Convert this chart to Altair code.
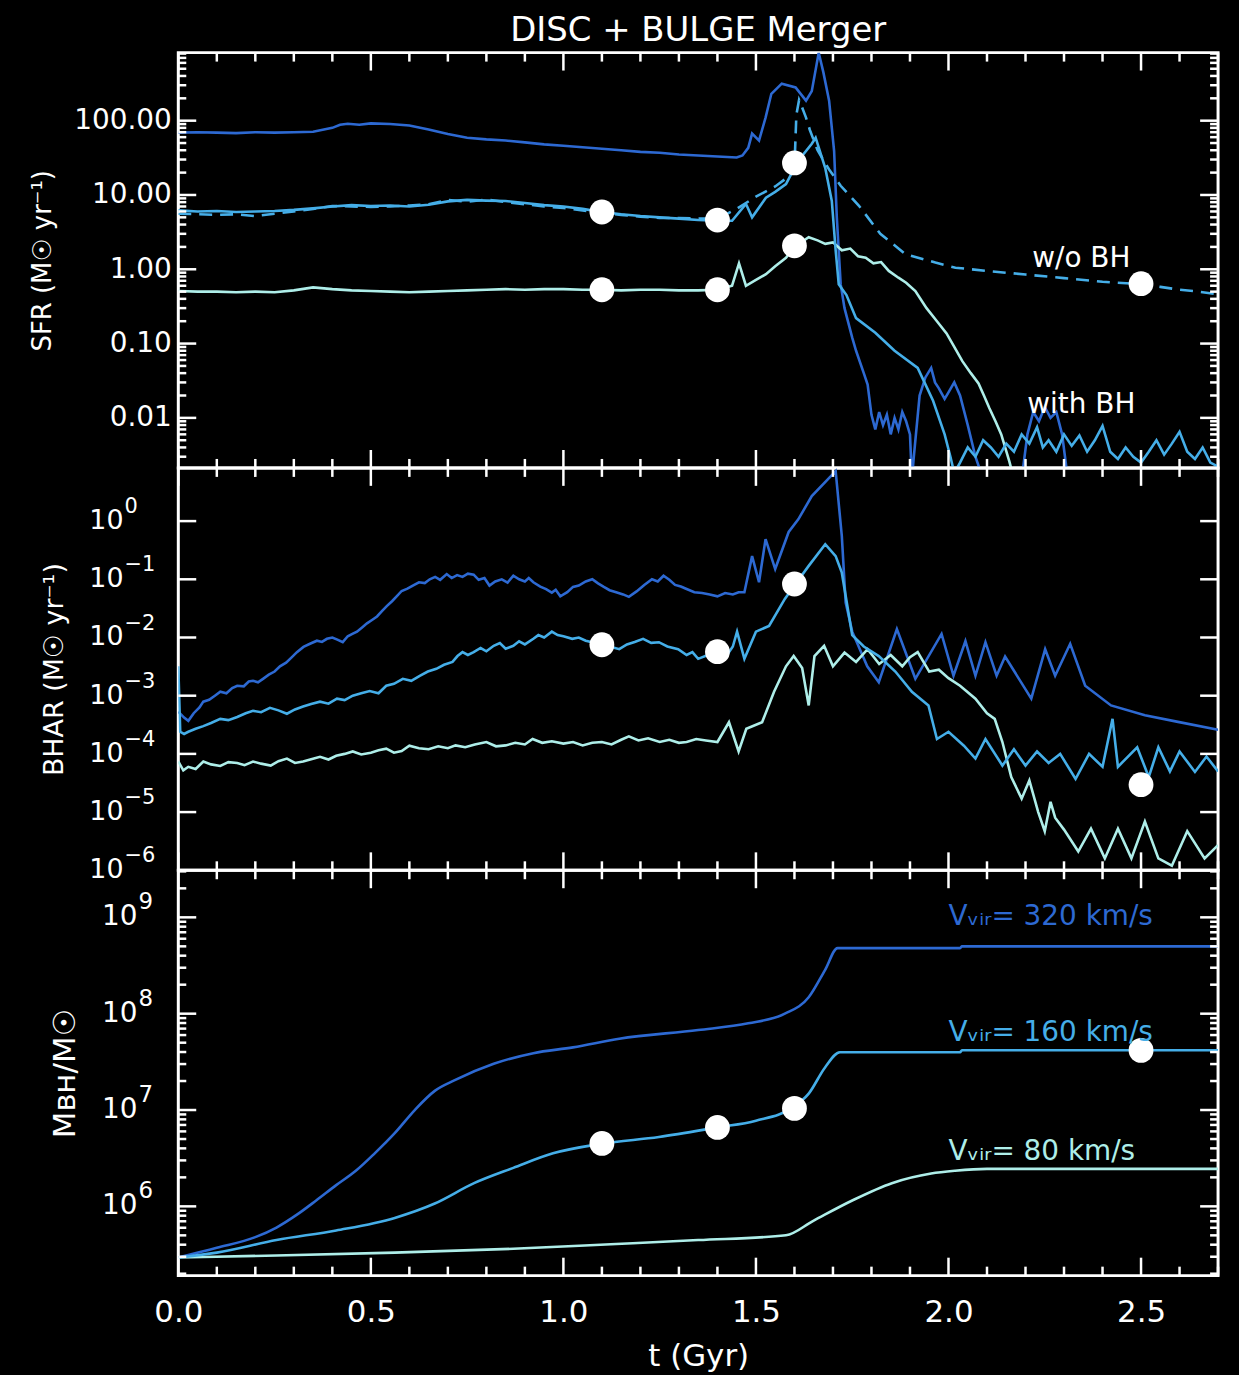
import altair as alt
import pandas as pd

# ---------------------------------------------------------------- data
T_EARLY = [0.00, 0.05, 0.10, 0.15, 0.20, 0.25, 0.30, 0.35, 0.40, 0.45, 0.50, 0.55, 0.60, 0.65,
           0.70, 0.75, 0.80, 0.85, 0.90, 0.95, 1.00, 1.05, 1.10, 1.15, 1.20, 1.25, 1.30, 1.35, 1.40]

# SFR panel
SFR320_T = [0.00, 0.05, 0.10, 0.15, 0.20, 0.25, 0.30, 0.35, 0.40, 0.42, 0.44, 0.47, 0.50, 0.55, 0.60,
            0.65, 0.70, 0.75, 0.80, 0.85, 0.90, 0.95, 1.00, 1.05, 1.10, 1.15, 1.20, 1.25, 1.30, 1.35,
            1.40, 1.45, 1.465, 1.48, 1.49, 1.508, 1.525, 1.54, 1.567, 1.603, 1.63, 1.645, 1.663, 1.675,
            1.69, 1.703, 1.71, 1.72, 1.73, 1.75, 1.76, 1.78, 1.79, 1.80, 1.81, 1.82, 1.83, 1.84, 1.85,
            1.86, 1.87, 1.88, 1.89, 1.90, 1.905, 1.91, 1.925, 1.94, 1.955, 1.965, 1.975, 1.99, 2.00,
            2.015, 2.03, 2.05, 2.07, 2.09, 2.19, 2.205, 2.22, 2.235, 2.25, 2.265, 2.28, 2.295, 2.31, 2.70]
SFR320_V = [69, 70, 69, 68, 70, 69, 70, 71, 80, 88, 91, 88, 92, 90, 86,
            76, 66, 59, 56, 54, 51, 48, 46, 44, 42, 40, 38, 37, 35, 34,
            33, 32, 34, 43, 67, 54, 110, 230, 315, 280, 186, 250, 820, 450,
            186, 39, 5, 0.63, 0.3, 0.12, 0.08, 0.04, 0.028, 0.011, 0.007, 0.012, 0.008, 0.011, 0.006,
            0.010, 0.007, 0.012, 0.009, 0.006, 0.0015, 0.003, 0.02, 0.035, 0.047, 0.03, 0.025, 0.018, 0.022,
            0.03, 0.02, 0.008, 0.003, 0.0015, 0.0015, 0.006, 0.012, 0.009, 0.014, 0.010, 0.012, 0.006, 0.0015, 0.0015]

SFR160_T = T_EARLY + [1.438, 1.474, 1.49, 1.526, 1.55, 1.578, 1.61, 1.645, 1.655, 1.68,
                      1.697, 1.707, 1.715, 1.735, 1.76, 1.81, 1.86, 1.92, 1.96, 1.99,
                      2.005, 2.015, 2.03, 2.05, 2.07, 2.09, 2.11, 2.13, 2.15, 2.17,
                      2.19, 2.21, 2.23, 2.245, 2.26, 2.28, 2.30, 2.32, 2.34, 2.36,
                      2.38, 2.40, 2.42, 2.44, 2.46, 2.48, 2.50, 2.52, 2.54, 2.56,
                      2.58, 2.60, 2.62, 2.64, 2.66, 2.68, 2.70]
SFR160_V = [6.2, 6.0, 6.1, 5.9, 6.0, 6.1, 6.3, 6.6, 7.0, 7.3, 7.1, 7.2, 7.0, 7.4, 8.2, 8.6, 8.4, 8.3,
            7.8, 7.3, 7.0, 6.5, 5.9, 5.5, 5.2, 5.0, 4.8, 4.6, 4.5] + \
           [4.5, 7.6, 5.0, 9.2, 11, 14, 29, 49, 59, 23,
            8.3, 1.8, 0.63, 0.45, 0.22, 0.14, 0.08, 0.047, 0.017, 0.006,
            0.003, 0.0018, 0.0025, 0.004, 0.003, 0.005, 0.004, 0.003, 0.0045, 0.0035,
            0.006, 0.0045, 0.0075, 0.004, 0.005, 0.0035, 0.006, 0.0042, 0.0058, 0.0035,
            0.005, 0.0078, 0.0035, 0.0028, 0.004, 0.003, 0.0025, 0.0035, 0.005, 0.0032,
            0.0045, 0.0065, 0.0035, 0.0028, 0.004, 0.0025, 0.0022]

SFR160NOBH_T = T_EARLY + [1.45, 1.50, 1.55, 1.58, 1.60, 1.605, 1.612, 1.62, 1.63, 1.64, 1.66, 1.69,
                          1.72, 1.767, 1.823, 1.888, 1.966, 2.018, 2.10, 2.20, 2.30, 2.40, 2.50,
                          2.55, 2.60, 2.65, 2.70]
SFR160NOBH_V = [5.6, 5.5, 5.4, 5.5, 5.2, 5.6, 6.0, 6.5, 7.1, 7.0, 6.9, 7.0, 7.2, 7.5, 8.6, 8.1, 8.7,
                8.0, 7.5, 7.0, 6.7, 6.2, 5.7, 5.4, 5.1, 4.9, 4.9, 4.8, 4.8] + \
               [6.5, 9.5, 13, 17, 24, 120, 190, 150, 110, 75, 40, 22,
                13.3, 7.2, 3.0, 1.6, 1.23, 1.05, 0.95, 0.85, 0.76, 0.68, 0.63,
                0.58, 0.53, 0.5, 0.46]

SFR80_T = T_EARLY + [1.438, 1.456, 1.474, 1.50, 1.526, 1.55, 1.578, 1.60, 1.637, 1.66,
                     1.68, 1.70, 1.723, 1.745, 1.765, 1.785, 1.805, 1.825, 1.845, 1.87,
                     1.89, 1.914, 1.943, 1.97, 1.995, 2.015, 2.036, 2.058, 2.078, 2.092,
                     2.106, 2.122, 2.137, 2.158, 2.175, 2.70]
SFR80_V = [0.51, 0.50, 0.50, 0.49, 0.50, 0.49, 0.52, 0.57, 0.54, 0.52, 0.51, 0.50, 0.49, 0.50, 0.51,
           0.52, 0.53, 0.54, 0.53, 0.54, 0.54, 0.53, 0.53, 0.52, 0.53, 0.53, 0.52, 0.52, 0.53] + \
          [0.6, 1.2, 0.6, 0.72, 0.86, 1.1, 1.43, 2.0, 2.7, 2.45,
           2.2, 2.3, 1.8, 1.9, 1.5, 1.43, 1.2, 1.25, 0.95, 0.77,
           0.66, 0.51, 0.30, 0.2, 0.137, 0.09, 0.058, 0.04, 0.029, 0.02,
           0.0136, 0.009, 0.006, 0.0026, 0.0012, 0.0012]

SFR_DOT_T = [1.1, 1.4, 1.6, 1.1, 1.4, 1.6, 2.5]
SFR_DOT_V = [5.9, 4.6, 27, 0.53, 0.53, 2.07, 0.64]

# BHAR panel
BHAR320_T = [0.000, 0.015, 0.026, 0.04, 0.055, 0.065, 0.08, 0.095, 0.109, 0.125, 0.14, 0.153,
             0.17, 0.183, 0.194, 0.207, 0.22, 0.235, 0.25, 0.264, 0.28, 0.295, 0.308, 0.325,
             0.342, 0.36, 0.373, 0.386, 0.40, 0.413, 0.427, 0.44, 0.452, 0.464, 0.478, 0.49,
             0.503, 0.516, 0.53, 0.542, 0.555, 0.567, 0.58, 0.595, 0.609, 0.625, 0.64, 0.653,
             0.667, 0.68, 0.697, 0.71, 0.724, 0.738, 0.752, 0.767, 0.78, 0.795, 0.808, 0.823,
             0.84, 0.855, 0.87, 0.885, 0.90, 0.91, 0.922, 0.94, 0.955, 0.97, 0.98, 0.992,
             1.01, 1.025, 1.04, 1.058, 1.075, 1.09, 1.105, 1.12, 1.137, 1.155, 1.17, 1.19,
             1.21, 1.23, 1.245, 1.26, 1.275, 1.29, 1.305, 1.32, 1.34, 1.36, 1.38, 1.40,
             1.42, 1.44, 1.455, 1.47,
             1.49, 1.508, 1.525, 1.55, 1.585, 1.61, 1.645, 1.707, 1.723,
             1.733, 1.75, 1.789, 1.819, 1.866, 1.914, 1.982, 2.013, 2.044, 2.07,
             2.096, 2.125, 2.147, 2.215, 2.251, 2.277, 2.316, 2.355, 2.422, 2.51,
             2.596, 2.70]
BHAR320_V = [5.3e-4, 4.2e-4, 3.7e-4, 5.0e-4, 6.3e-4, 7.9e-4, 8.5e-4, 1.0e-3, 1.17e-3, 1.1e-3, 1.35e-3, 1.48e-3,
             1.45e-3, 1.75e-3, 1.8e-3, 1.7e-3, 1.95e-3, 2.3e-3, 2.6e-3, 3.2e-3, 3.7e-3, 4.6e-3, 5.6e-3, 6.9e-3,
             7.8e-3, 8.8e-3, 8.4e-3, 9.5e-3, 1.0e-2, 9.2e-3, 8.3e-3, 1.05e-2, 1.15e-2, 1.26e-2, 1.5e-2, 1.75e-2,
             2.0e-2, 2.3e-2, 2.9e-2, 3.5e-2, 4.2e-2, 5.1e-2, 6.3e-2, 6.9e-2, 7.8e-2, 8.9e-2, 8.6e-2, 0.1,
             0.11, 0.098, 0.123, 0.105, 0.118, 0.11, 0.125, 0.12, 0.098, 0.105, 0.078, 0.092,
             0.1, 0.088, 0.115, 0.1, 0.092, 0.105, 0.089, 0.075, 0.068, 0.059, 0.066, 0.051,
             0.06, 0.074, 0.078, 0.092, 0.1, 0.085, 0.074, 0.065, 0.06, 0.055, 0.05, 0.062,
             0.08, 0.1, 0.092, 0.115, 0.098, 0.08, 0.075, 0.068, 0.06, 0.058, 0.055, 0.051,
             0.058, 0.055, 0.06, 0.06,
             0.25, 0.089, 0.49, 0.15, 0.65, 1.07, 2.7, 7.2, 0.55,
             0.04, 0.0126, 3.2e-3, 1.7e-3, 1.4e-2, 1.95e-3, 1.15e-2, 2.2e-3, 8.7e-3, 2.2e-3,
             8.3e-3, 2.2e-3, 4.7e-3, 8.9e-4, 6.3e-3, 2.2e-3, 7.8e-3, 1.48e-3, 6.8e-4, 4.6e-4,
             3.55e-4, 2.6e-4]

BHAR160_T = [0.000, 0.005, 0.015, 0.026, 0.045, 0.065, 0.085, 0.109, 0.13, 0.153, 0.175, 0.194,
             0.215, 0.238, 0.26, 0.282, 0.303, 0.324, 0.345, 0.368, 0.39, 0.412, 0.432, 0.453,
             0.475, 0.497, 0.52, 0.54, 0.56, 0.583, 0.605, 0.627, 0.648, 0.67, 0.69, 0.712,
             0.725, 0.738, 0.752, 0.767, 0.785, 0.80, 0.819, 0.835, 0.85, 0.87, 0.885, 0.90,
             0.922, 0.935, 0.95, 0.97, 0.985, 1.00, 1.023, 1.04, 1.058, 1.075, 1.10, 1.12,
             1.145, 1.165, 1.185, 1.207, 1.228, 1.248, 1.27, 1.298, 1.32, 1.335, 1.35, 1.375,
             1.40, 1.425, 1.44, 1.451,
             1.47, 1.50, 1.534, 1.575, 1.606,
             1.637, 1.68, 1.707, 1.723, 1.75, 1.78, 1.819, 1.862, 1.905, 1.948,
             1.97, 2.0, 2.04, 2.07, 2.096, 2.14, 2.17, 2.2, 2.23, 2.26,
             2.29, 2.33, 2.365, 2.40, 2.426, 2.44, 2.49, 2.52, 2.545, 2.575,
             2.60, 2.64, 2.67, 2.70]
BHAR160_V = [3.2e-3, 2.4e-4, 2.2e-4, 2.4e-4, 2.7e-4, 3.0e-4, 3.4e-4, 4.0e-4, 3.8e-4, 4.3e-4, 5.0e-4, 5.5e-4,
             5.2e-4, 6.2e-4, 5.6e-4, 4.9e-4, 5.8e-4, 6.5e-4, 7.2e-4, 7.9e-4, 7.3e-4, 8.9e-4, 8.4e-4, 1.0e-3,
             1.1e-3, 1.2e-3, 1.1e-3, 1.48e-3, 1.6e-3, 1.95e-3, 1.8e-3, 2.2e-3, 2.6e-3, 2.9e-3, 3.4e-3, 3.8e-3,
             4.8e-3, 5.6e-3, 5.0e-3, 5.6e-3, 6.6e-3, 5.8e-3, 7.2e-3, 8.0e-3, 6.4e-3, 7.2e-3, 8.6e-3, 7.6e-3,
             9.5e-3, 1.1e-2, 1.0e-2, 1.26e-2, 1.1e-2, 1.05e-2, 9.5e-3, 1.0e-2, 8.8e-3, 8.3e-3, 7.5e-3, 7.0e-3,
             6.3e-3, 7.6e-3, 8.4e-3, 9.5e-3, 8.1e-3, 8.3e-3, 7.0e-3, 6.3e-3, 5.0e-3, 5.6e-3, 4.3e-3, 5.0e-3,
             5.7e-3, 5.0e-3, 7.0e-3, 1.26e-2,
             4.3e-3, 1.26e-2, 1.58e-2, 4.6e-2, 8.9e-2,
             0.17, 0.4, 0.25, 0.13, 0.011, 7.0e-3, 4.8e-3, 2.6e-3, 1.17e-3, 6.8e-4,
             1.8e-4, 2.4e-4, 1.38e-4, 8.3e-5, 1.8e-4, 6.3e-5, 1.2e-4, 6.3e-5, 1.1e-4, 7e-5,
             1.0e-4, 3.7e-5, 1.0e-4, 6e-5, 4.0e-4, 6e-5, 1.3e-4, 4.0e-5, 1.3e-4, 5e-5,
             1.1e-4, 4.9e-5, 9e-5, 5e-5]

BHAR80_T = [0.000, 0.013, 0.026, 0.045, 0.065, 0.085, 0.109, 0.13, 0.153, 0.172, 0.194, 0.215,
            0.24, 0.26, 0.282, 0.303, 0.324, 0.345, 0.368, 0.39, 0.41, 0.432, 0.453, 0.475,
            0.50, 0.52, 0.54, 0.56, 0.58, 0.60, 0.625, 0.65, 0.675, 0.70, 0.72, 0.745,
            0.77, 0.80, 0.825, 0.85, 0.875, 0.90, 0.92, 0.945, 0.97, 1.00, 1.025, 1.05,
            1.075, 1.10, 1.125, 1.15, 1.17, 1.195, 1.22, 1.25, 1.275, 1.30, 1.32, 1.345,
            1.37, 1.40, 1.43, 1.455,
            1.475, 1.516, 1.547, 1.578, 1.598, 1.62, 1.637, 1.652, 1.677, 1.70,
            1.73, 1.76, 1.79, 1.82, 1.85, 1.88, 1.90, 1.92, 1.95, 1.975,
            2.00, 2.03, 2.07, 2.10, 2.12, 2.14, 2.163, 2.19, 2.21, 2.233,
            2.25, 2.265, 2.277, 2.30, 2.337, 2.37, 2.406, 2.44, 2.475, 2.51,
            2.545, 2.58, 2.62, 2.665, 2.70]
BHAR80_V = [7.4e-5, 5.2e-5, 6.0e-5, 5.5e-5, 7.4e-5, 6.6e-5, 6.2e-5, 7.2e-5, 7.0e-5, 6.4e-5, 7.4e-5, 6.8e-5,
            6.3e-5, 7.5e-5, 8.3e-5, 7.0e-5, 7.4e-5, 8.1e-5, 8.9e-5, 8.0e-5, 9.3e-5, 1.0e-4, 1.1e-4, 9.8e-5,
            1.05e-4, 1.15e-4, 1.23e-4, 1.05e-4, 1.12e-4, 1.38e-4, 1.25e-4, 1.2e-4, 1.35e-4, 1.25e-4, 1.4e-4, 1.3e-4,
            1.45e-4, 1.6e-4, 1.35e-4, 1.4e-4, 1.55e-4, 1.45e-4, 1.8e-4, 1.55e-4, 1.65e-4, 1.5e-4, 1.6e-4, 1.4e-4,
            1.55e-4, 1.6e-4, 1.45e-4, 1.75e-4, 2.0e-4, 1.7e-4, 1.85e-4, 1.6e-4, 1.75e-4, 1.55e-4, 1.6e-4, 1.8e-4,
            1.7e-4, 1.6e-4, 3.5e-4, 1.1e-4,
            2.7e-4, 3.5e-4, 1.17e-3, 3.2e-3, 4.8e-3, 3.0e-3, 6.8e-4, 4.8e-3, 7.2e-3, 3.2e-3,
            5.5e-3, 3.8e-3, 6.3e-3, 3.5e-3, 5.0e-3, 3.2e-3, 4.6e-3, 5.6e-3, 2.6e-3, 2.8e-3,
            2.0e-3, 1.48e-3, 8.9e-4, 5.0e-4, 4.0e-4, 1.6e-4, 4.0e-5, 1.7e-5, 3.5e-5, 1.0e-5,
            4.7e-6, 1.5e-5, 8e-6, 5e-6, 2.1e-6, 5.2e-6, 1.6e-6, 5.2e-6, 1.6e-6, 6.9e-6,
            1.6e-6, 1.2e-6, 4.7e-6, 1.6e-6, 2.7e-6]

BHAR_DOT_T = [1.1, 1.4, 1.6, 2.5]
BHAR_DOT_V = [7.5e-3, 5.7e-3, 0.083, 2.96e-5]

# Black-hole mass panel
MBH320_T = [0.0, 0.1, 0.2, 0.255, 0.31, 0.358, 0.41, 0.461, 0.51, 0.562, 0.614, 0.666, 0.718,
            0.819, 0.922, 1.025, 1.145, 1.35, 1.48, 1.575, 1.637, 1.679, 1.712, 2.03, 2.035, 2.70]
MBH320_V = [2.95e5, 3.72e5, 4.79e5, 6.03e5, 8.3e5, 1.15e6, 1.66e6, 2.34e6, 3.55e6, 5.75e6, 1.0e7,
            1.58e7, 2.04e7, 3.02e7, 3.89e7, 4.47e7, 5.5e7, 6.76e7, 7.94e7, 1.0e8, 1.48e8, 2.82e8,
            4.79e8, 4.79e8, 5.0e8, 5.0e8]
MBH160_T = [0.0, 0.1, 0.255, 0.41, 0.562, 0.666, 0.768, 0.87, 0.973, 1.10, 1.248, 1.40, 1.50,
            1.596, 1.637, 1.679, 1.718, 2.03, 2.035, 2.70]
MBH160_V = [2.95e5, 3.31e5, 4.47e5, 5.62e5, 7.59e5, 1.07e6, 1.74e6, 2.51e6, 3.55e6, 4.47e6,
            5.25e6, 6.61e6, 7.76e6, 1.07e7, 1.48e7, 2.75e7, 3.98e7, 3.98e7, 4.17e7, 4.17e7]
MBH80_T = [0.0, 0.255, 0.562, 0.87, 1.137, 1.35, 1.578, 1.649, 1.75, 1.853, 1.955, 2.017, 2.1, 2.70]
MBH80_V = [2.95e5, 3.09e5, 3.31e5, 3.63e5, 4.07e5, 4.47e5, 5.01e5, 7.08e5, 1.15e6, 1.74e6,
           2.19e6, 2.34e6, 2.45e6, 2.45e6]
MBH_DOT_T = [1.1, 1.4, 1.6, 2.5]
MBH_DOT_V = [4.5e6, 6.6e6, 1.04e7, 4.16e7]

# annotations (data coordinates) and tick labels
SFR_NOTE_T = [2.345, 2.345]
SFR_NOTE_V = [1.38, 0.015]
SFR_NOTE_TEXT = ["w/o BH", "with BH"]
VVIR_T = [2.0, 2.0, 2.0]
VVIR_V = [1.0e9, 6.24e7, 3.63e6]
VVIR_TEXT = ["Vᵥᵢᵣ= 320 km/s", "Vᵥᵢᵣ= 160 km/s", "Vᵥᵢᵣ= 80 km/s"]

X_MAJOR = [0.0, 0.5, 1.0, 1.5, 2.0, 2.5]
X_MINOR = [0.1, 0.2, 0.3, 0.4, 0.6, 0.7, 0.8, 0.9, 1.1, 1.2, 1.3, 1.4, 1.6, 1.7, 1.8, 1.9,
           2.1, 2.2, 2.3, 2.4, 2.6, 2.7]
SFR_TICKS = [100, 10, 1, 0.1, 0.01]
BHAR_TICKS = [1, 0.1, 0.01, 1e-3, 1e-4, 1e-5, 1e-6]
BHAR_EXP = ["0", "−1", "−2", "−3", "−4", "−5", "−6"]
MBH_TICKS = [1e9, 1e8, 1e7, 1e6]
MBH_EXP = ["9", "8", "7", "6"]

# ---------------------------------------------------------------- style
FONT = "DejaVu Sans"
C320 = "#2d69d2"
C160 = "#45aee8"
C80 = "#aeeee9"
W = 1044
H1, H2, H3 = 417, 404, 407
TICK_W = 2.5
LINE_W = 2.6


def minor_log(lo, hi):
    out = []
    for k in range(-7, 10):
        for m in range(2, 10):
            val = m * 10.0 ** k
            if lo < val < hi:
                out.append(val)
    return out


XSC = alt.Scale(domain=[0, 2.7], nice=False, zero=False)


def yscale(dom):
    return alt.Scale(type="log", domain=dom, nice=False)


def line(t, v, color, X, Y, dash=None, interp="linear"):
    kw = dict(color=color, strokeWidth=LINE_W, clip=True, interpolate=interp)
    if dash is not None:
        kw["strokeDash"] = dash
    return alt.Chart(pd.DataFrame({"t": t, "v": v})).mark_line(**kw).encode(x=X, y=Y)


def dots(t, v, X, Y):
    return alt.Chart(pd.DataFrame({"t": t, "v": v})).mark_circle(
        size=620, color="white", opacity=1).encode(x=X, y=Y)


def xticks(X, H):
    out = []
    for vals, L in ((X_MAJOR, 18), (X_MINOR, 9)):
        d = pd.DataFrame({"t": vals})
        out.append(alt.Chart(d).mark_rule(color="white", strokeWidth=TICK_W).encode(
            x=X, y=alt.value(H), y2=alt.value(H - L)))
        out.append(alt.Chart(d).mark_rule(color="white", strokeWidth=TICK_W).encode(
            x=X, y=alt.value(0), y2=alt.value(L)))
    return out


def yticks(Y, maj, mnr):
    out = []
    for vals, L in ((maj, 18), (mnr, 8)):
        if not vals:
            continue
        d = pd.DataFrame({"v": vals})
        out.append(alt.Chart(d).mark_rule(color="white", strokeWidth=TICK_W).encode(
            y=Y, x=alt.value(0), x2=alt.value(L)))
        out.append(alt.Chart(d).mark_rule(color="white", strokeWidth=TICK_W).encode(
            y=Y, x=alt.value(W), x2=alt.value(W - L)))
    return out


def pow_labels(vals, exps, Y, base_size, exp_size, x_right, dy):
    d = pd.DataFrame({"v": vals, "e": exps})
    base = alt.Chart(d).mark_text(align="right", baseline="middle", fontSize=base_size,
                                  font=FONT, color="white").encode(
        y=Y, x=alt.value(x_right), text=alt.value("10"))
    sup = alt.Chart(d).mark_text(align="left", baseline="middle", fontSize=exp_size,
                                 font=FONT, color="white", dy=dy).encode(
        y=Y, x=alt.value(x_right + 1), text="e:N")
    return [base, sup]


def title_axis(title, size, tx, H, **kw):
    return alt.Axis(ticks=False, domain=False, grid=False, title=title, titleFont=FONT,
                    titleFontSize=size, titleFontWeight="normal", titleColor="white",
                    titleAngle=270, titleX=tx, titleY=H / 2, titleAlign="center",
                    titleBaseline="alphabetic", **kw)


# ---------------------------------------------------------------- panel 1: SFR
Y1_DOM = [0.00212, 824]
X1 = alt.X("t:Q", scale=XSC, axis=None)
Y1 = alt.Y("v:Q", scale=yscale(Y1_DOM),
           axis=title_axis("SFR (M☉ yr⁻¹)", 26, -128, H1, values=SFR_TICKS, format=".2f",
                           labelFont=FONT, labelFontSize=28, labelColor="white",
                           labelPadding=7))
notes1 = alt.Chart(pd.DataFrame({"t": SFR_NOTE_T, "v": SFR_NOTE_V, "s": SFR_NOTE_TEXT})).mark_text(
    font=FONT, fontSize=28, color="white", align="center", baseline="middle").encode(
    x=X1, y=Y1, text="s:N")
p1 = alt.layer(
    line(SFR320_T, SFR320_V, C320, X1, Y1),
    line(SFR80_T, SFR80_V, C80, X1, Y1),
    line(SFR160NOBH_T, SFR160NOBH_V, C160, X1, Y1, dash=[13, 8]),
    line(SFR160_T, SFR160_V, C160, X1, Y1),
    dots(SFR_DOT_T, SFR_DOT_V, X1, Y1),
    notes1,
    *xticks(X1, H1),
    *yticks(Y1, SFR_TICKS, minor_log(*Y1_DOM)),
).properties(width=W, height=H1,
             title=alt.TitleParams("DISC + BULGE Merger", font=FONT, fontSize=34,
                                   fontWeight="normal", color="white", anchor="middle",
                                   frame="group", offset=3))

# ---------------------------------------------------------------- panel 2: BHAR
Y2_DOM = [1e-6, 8.2]
X2 = alt.X("t:Q", scale=XSC, axis=None)
Y2 = alt.Y("v:Q", scale=yscale(Y2_DOM),
           axis=title_axis("BHAR (M☉ yr⁻¹)", 27, -116, H2, labels=False))
p2 = alt.layer(
    line(BHAR320_T, BHAR320_V, C320, X2, Y2),
    line(BHAR80_T, BHAR80_V, C80, X2, Y2),
    line(BHAR160_T, BHAR160_V, C160, X2, Y2),
    dots(BHAR_DOT_T, BHAR_DOT_V, X2, Y2),
    *pow_labels(BHAR_TICKS, BHAR_EXP, Y2, 27, 21, -55, -14),
    *xticks(X2, H2),
    *yticks(Y2, BHAR_TICKS[:-1], []),
).properties(width=W, height=H2)

# ---------------------------------------------------------------- panel 3: M_BH
Y3_DOM = [1.91e5, 3.08e9]
X3 = alt.X("t:Q", scale=XSC,
           axis=alt.Axis(values=X_MAJOR, format=".1f", labelFont=FONT, labelFontSize=31,
                         labelColor="white", labelPadding=22, labelFlush=False,
                         labelOverlap=False, ticks=False, domain=False, grid=False,
                         title="t (Gyr)", titleFont=FONT, titleFontSize=31,
                         titleFontWeight="normal", titleColor="white", titlePadding=14))
Y3 = alt.Y("v:Q", scale=yscale(Y3_DOM),
           axis=title_axis("Mʙʜ/M☉", 31, -104, H3, labels=False))
vvir = alt.Chart(pd.DataFrame({"t": VVIR_T, "v": VVIR_V, "s": VVIR_TEXT,
                               "c": [C320, C160, C80]})).mark_text(
    font=FONT, fontSize=28, align="left", baseline="middle").encode(
    x=X3, y=Y3, text="s:N", color=alt.Color("c:N", scale=None))
p3 = alt.layer(
    line(MBH320_T, MBH320_V, C320, X3, Y3, interp="monotone"),
    line(MBH80_T, MBH80_V, C80, X3, Y3, interp="monotone"),
    line(MBH160_T, MBH160_V, C160, X3, Y3, interp="monotone"),
    dots(MBH_DOT_T, MBH_DOT_V, X3, Y3),
    vvir,
    *pow_labels(MBH_TICKS, MBH_EXP, Y3, 28, 23, -41, -15),
    *xticks(X3, H3),
    *yticks(Y3, MBH_TICKS, minor_log(*Y3_DOM)),
).properties(width=W, height=H3)

chart = alt.vconcat(p1, p2, p3, spacing=0, bounds="flush").properties(
    background="black",
    padding={"left": 20, "top": 2, "right": 10, "bottom": 5},
).configure_view(stroke="white", strokeWidth=3)

# page background black (falls back silently if the template hook is unavailable)
_restore = None
try:
    from altair.utils import html as _alt_html
    _orig_tpl = _alt_html.TEMPLATES["standard"]

    class _BlackPage:
        def render(self, *a, **kw):
            return _orig_tpl.render(*a, **kw).replace(
                "<head>", "<head><style>html,body{background:#000;}</style>", 1)

    _alt_html.TEMPLATES["standard"] = _BlackPage()
    _restore = (_alt_html, _orig_tpl)
except Exception:
    _restore = None

try:
    chart.save("out.html", embed_options={"renderer": "svg", "actions": False})
except Exception:
    if _restore is not None:
        _restore[0].TEMPLATES["standard"] = _restore[1]
    chart.save("out.html", embed_options={"renderer": "svg", "actions": False})
